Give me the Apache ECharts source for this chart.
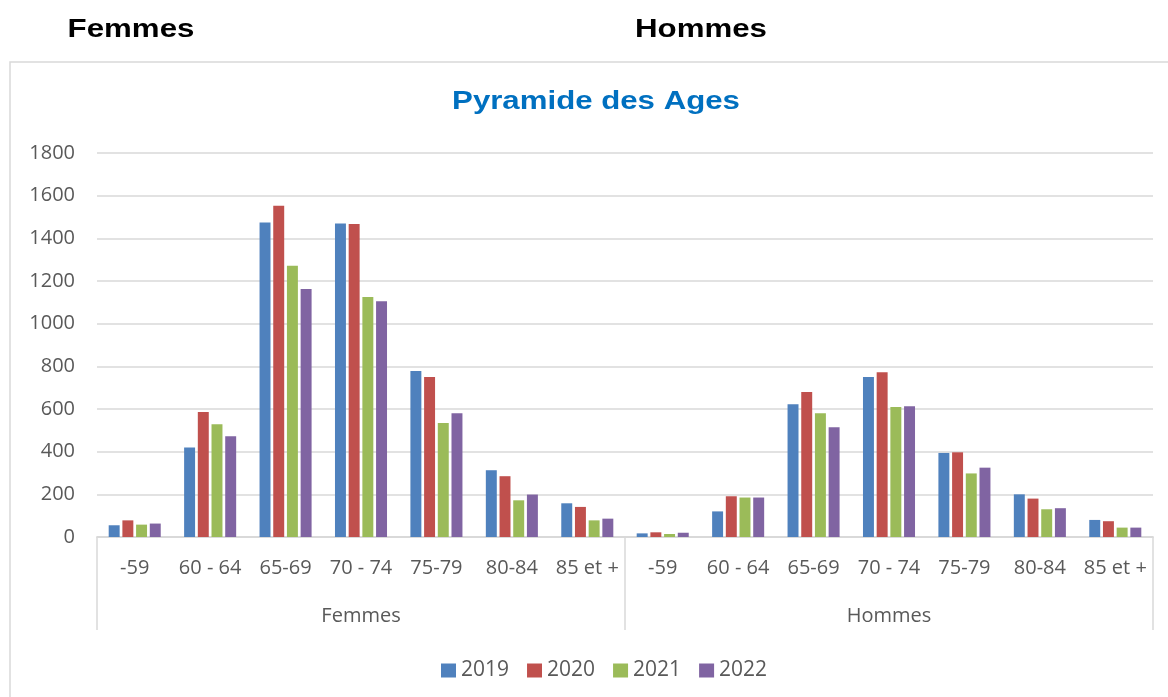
<!DOCTYPE html>
<html>
<head>
<meta charset="utf-8">
<script src="https://cdn.jsdelivr.net/npm/echarts@6/dist/echarts.min.js"></script>
<style>
  html, body { margin: 0; padding: 0; background: #fff; }
  #chart { width: 1168px; height: 697px; }
</style>
</head>
<body>
<div id="chart"></div>
<script>
// tranches d'age (repetees pour Femmes puis Hommes)
var ages = ['-59', '60 - 64', '65-69', '70 - 74', '75-79', '80-84', '85 et +'];
var groups = ['Femmes', 'Hommes'];
var years = ['2019', '2020', '2021', '2022'];

// Femmes
var femmes2019 = [55, 420, 1474, 1470, 778, 313, 158];
var femmes2020 = [78, 586, 1553, 1467, 750, 285, 141];
var femmes2021 = [58, 528, 1272, 1125, 534, 172, 78];
var femmes2022 = [63, 472, 1163, 1105, 580, 199, 86];
// Hommes
var hommes2019 = [17, 120, 622, 750, 394, 200, 80];
var hommes2020 = [22, 191, 680, 772, 397, 180, 74];
var hommes2021 = [14, 185, 580, 609, 298, 130, 44];
var hommes2022 = [20, 185, 514, 613, 325, 135, 44];

var colors = ['#4F81BD', '#C0504D', '#9BBB59', '#8064A2'];

var chart = echarts.init(document.getElementById('chart'));

var allAges = ages.concat(ages);
var values = [
	femmes2019.concat(hommes2019),
	femmes2020.concat(hommes2020),
	femmes2021.concat(hommes2021),
	femmes2022.concat(hommes2022)
];

var series = years.map(function (y, i) {
	return {
		name: y,
		type: 'bar',
		xAxisIndex: 0,
		barGap: '25%',
		barCategoryGap: '31%',
		itemStyle: { color: colors[i] },
		data: values[i]
	};
});

var option = {
	animation: false,
	color: colors,
	graphic: [
		// cadre du graphique
		{ type: 'rect', shape: { x: 10, y: 62, width: 1180, height: 660 },
		  style: { fill: 'none', stroke: '#d9d9d9', lineWidth: 1.5 }, silent: true },
		{ type: 'text', x: 131, y: 30, scaleX: 1.25,
		  style: { text: 'Femmes', font: 'bold 25px "Liberation Sans", Arial', fill: '#000', align: 'center', verticalAlign: 'middle' } },
		{ type: 'text', x: 701, y: 30, scaleX: 1.25,
		  style: { text: 'Hommes', font: 'bold 25px "Liberation Sans", Arial', fill: '#000', align: 'center', verticalAlign: 'middle' } },
		{ type: 'text', x: 596, y: 102, scaleX: 1.2,
		  style: { text: 'Pyramide des Ages', font: 'bold 26px "Liberation Sans", Arial', fill: '#0070C0', align: 'center', verticalAlign: 'middle' } }
	],
	legend: {
		data: years,
		left: 436,
		top: 655,
		itemWidth: 15,
		itemHeight: 14,
		itemGap: 18,
		icon: 'rect',
		textStyle: { fontSize: 21, color: '#595959', fontFamily: 'Open Sans', padding: [0, 0, 0, 0] }
	},
	grid: { left: 97, right: 15, top: 153, bottom: 160 },
	xAxis: [{
		type: 'category',
		data: allAges,
		position: 'bottom',
		axisLine: { show: true, lineStyle: { color: '#d9d9d9', width: 1.5 } },
		axisTick: { show: false },
		axisLabel: { interval: 0, fontSize: 20, color: '#595959', fontFamily: 'Open Sans', margin: 21 }
	}, {
		type: 'category',
		data: groups,
		position: 'bottom',
		axisLine: { show: true, lineStyle: { color: '#d9d9d9', width: 1.5 } },
		axisTick: { show: true, length: 93, interval: 0, lineStyle: { color: '#d9d9d9', width: 1.5 } },
		axisLabel: { interval: 0, fontSize: 20, color: '#595959', fontFamily: 'Open Sans', margin: 69 }
	}],
	yAxis: {
		type: 'value',
		min: 0,
		max: 1800,
		interval: 200,
		axisLine: { show: false },
		axisTick: { show: false },
		axisLabel: { fontSize: 20, color: '#595959', fontFamily: 'Open Sans', margin: 22,
			formatter: function (v) { return String(v); } },
		splitLine: { lineStyle: { color: '#d9d9d9', width: 1.5 } }
	},
	series: series
};

chart.setOption(option);
</script>
</body>
</html>
